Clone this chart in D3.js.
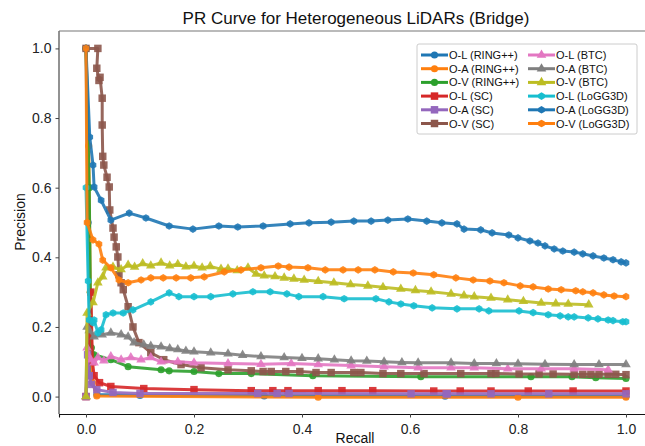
<!DOCTYPE html>
<meta charset="utf-8">
<script src="https://d3js.org/d3.v7.min.js"></script>
<style>
  body { margin: 0; background: #fff; }
  svg { font-family: "Liberation Sans", Arial, sans-serif; }
</style>
<div id="chart"></div>
<script>

// ---- data: [recall, precision] ----
var ringOL = [[0,1.0],[0.004,0.5],[0.008,0.06],[0.02,0.006],[0.1,0.003],[0.33,0.002],[0.665,0.001],[1.0,0.001]];
var ringOA = [[0,1.0],[0.005,0.72],[0.008,0.3],[0.012,0.04],[0.02,0.002],[0.43,-0.002],[0.8,-0.002],[1.0,-0.002]];
var ringOV = [[0,1.0],[0.006,0.6],[0.008,0.3],[0.01,0.14],[0.015,0.12],[0.046,0.106],[0.078,0.086],[0.139,0.077],[0.154,0.074],[0.2,0.072],[0.246,0.066],[0.306,0.066],[0.42,0.06],[0.62,0.057],[0.824,0.057],[0.9,0.057],[0.944,0.054],[1.0,0.052]];

var scOL = [[0,0],[0.009,0.3],[0.012,0.1],[0.015,0.06],[0.025,0.04],[0.046,0.029],[0.107,0.023],[0.2,0.02],[0.306,0.017],[0.346,0.017],[0.374,0.017],[0.43,0.017],[0.474,0.017],[0.531,0.017],[0.644,0.016],[0.693,0.016],[0.75,0.016],[0.819,0.016],[0.902,0.016],[1.0,0.016]];
var scOA = [[0,0],[0.003,0.12],[0.006,0.06],[0.01,0.035],[0.02,0.02],[0.05,0.012],[0.1,0.009],[0.318,0.009],[0.354,0.009],[0.376,0.009],[0.602,0.008],[0.669,0.008],[0.667,0.008],[0.75,0.008],[0.857,0.008],[1.0,0.008]];
var scOV = [[0,1.0],[0.022,1.0],[0.02,0.943],[0.024,0.908],[0.026,0.917],[0.03,0.857],[0.03,0.78],[0.031,0.69],[0.033,0.665],[0.039,0.63],[0.043,0.602],[0.044,0.536],[0.05,0.484],[0.052,0.458],[0.056,0.43],[0.059,0.401],[0.061,0.35],[0.065,0.327],[0.069,0.307],[0.078,0.258],[0.087,0.2],[0.098,0.155],[0.12,0.126],[0.144,0.106],[0.176,0.092],[0.213,0.083],[0.263,0.077],[0.306,0.074],[0.328,0.072],[0.343,0.072],[0.37,0.072],[0.396,0.072],[0.426,0.069],[0.454,0.069],[0.496,0.069],[0.509,0.069],[0.55,0.066],[0.583,0.066],[0.626,0.066],[0.694,0.066],[0.75,0.066],[0.759,0.066],[0.802,0.065],[0.839,0.065],[0.865,0.065],[0.904,0.064],[0.92,0.064],[0.935,0.064],[0.95,0.064],[0.967,0.064],[0.981,0.064],[1.0,0.063]];

var btcOL = [[0,0],[0.002,0.14],[0.009,0.106],[0.015,0.097],[0.022,0.112],[0.033,0.103],[0.046,0.115],[0.065,0.106],[0.083,0.112],[0.102,0.106],[0.12,0.112],[0.139,0.1],[0.17,0.1],[0.2,0.097],[0.263,0.095],[0.324,0.093],[0.38,0.095],[0.43,0.092],[0.491,0.089],[0.552,0.086],[0.615,0.083],[0.676,0.083],[0.719,0.083],[0.781,0.08],[0.843,0.08],[0.904,0.08],[0.967,0.077]];
var btcOA = [[0,0],[0.002,0.2],[0.006,0.19],[0.015,0.172],[0.03,0.178],[0.046,0.183],[0.065,0.178],[0.078,0.172],[0.089,0.155],[0.107,0.149],[0.12,0.145],[0.139,0.143],[0.155,0.138],[0.17,0.135],[0.185,0.131],[0.2,0.129],[0.231,0.126],[0.263,0.123],[0.29,0.119],[0.324,0.115],[0.367,0.112],[0.4,0.11],[0.43,0.109],[0.46,0.106],[0.491,0.103],[0.52,0.102],[0.552,0.1],[0.585,0.098],[0.615,0.097],[0.676,0.097],[0.719,0.095],[0.76,0.095],[0.8,0.094],[0.85,0.093],[0.904,0.092],[0.95,0.092],[1.0,0.092]];
var btcOV = [[0,0],[0.002,0.24],[0.013,0.27],[0.022,0.327],[0.031,0.344],[0.037,0.37],[0.05,0.372],[0.065,0.365],[0.078,0.378],[0.09,0.372],[0.105,0.382],[0.12,0.376],[0.139,0.384],[0.155,0.376],[0.17,0.38],[0.185,0.373],[0.2,0.375],[0.215,0.37],[0.23,0.374],[0.25,0.366],[0.263,0.367],[0.28,0.362],[0.3,0.37],[0.315,0.352],[0.33,0.347],[0.35,0.345],[0.367,0.341],[0.385,0.338],[0.404,0.335],[0.43,0.331],[0.459,0.327],[0.49,0.322],[0.522,0.318],[0.55,0.314],[0.583,0.309],[0.61,0.305],[0.639,0.301],[0.676,0.295],[0.7,0.29],[0.719,0.287],[0.75,0.283],[0.781,0.278],[0.81,0.274],[0.843,0.269],[0.87,0.267],[0.893,0.266],[0.931,0.264]];

var lgOL = [[0,0.6],[0.004,0.332],[0.006,0.22],[0.013,0.212],[0.015,0.22],[0.022,0.183],[0.028,0.192],[0.037,0.235],[0.05,0.24],[0.069,0.24],[0.087,0.249],[0.12,0.272],[0.154,0.298],[0.172,0.287],[0.2,0.287],[0.231,0.287],[0.272,0.295],[0.309,0.301],[0.341,0.301],[0.372,0.295],[0.394,0.287],[0.439,0.287],[0.478,0.281],[0.537,0.281],[0.561,0.272],[0.583,0.266],[0.607,0.261],[0.641,0.255],[0.687,0.252],[0.728,0.252],[0.746,0.246],[0.802,0.246],[0.828,0.241],[0.856,0.235],[0.878,0.232],[0.893,0.229],[0.904,0.229],[0.93,0.226],[0.948,0.223],[0.967,0.22],[0.976,0.218],[0.994,0.215],[1.0,0.215]];
var lgOA = [[0,1.0],[0.007,0.745],[0.013,0.665],[0.015,0.602],[0.028,0.564],[0.046,0.507],[0.08,0.527],[0.111,0.513],[0.154,0.49],[0.198,0.481],[0.246,0.49],[0.281,0.487],[0.328,0.49],[0.378,0.496],[0.413,0.499],[0.454,0.501],[0.496,0.504],[0.528,0.504],[0.559,0.507],[0.596,0.51],[0.631,0.504],[0.659,0.499],[0.687,0.496],[0.7,0.481],[0.731,0.479],[0.752,0.47],[0.783,0.464],[0.8,0.456],[0.822,0.447],[0.837,0.441],[0.85,0.433],[0.867,0.424],[0.883,0.418],[0.904,0.415],[0.92,0.41],[0.939,0.404],[0.959,0.398],[0.976,0.393],[0.991,0.387],[1.0,0.384]];
var lgOV = [[0,1.0],[0.002,0.5],[0.013,0.45],[0.024,0.438],[0.031,0.392],[0.046,0.37],[0.061,0.335],[0.078,0.327],[0.102,0.335],[0.12,0.341],[0.143,0.341],[0.167,0.341],[0.194,0.341],[0.219,0.344],[0.256,0.358],[0.287,0.364],[0.324,0.37],[0.356,0.375],[0.376,0.372],[0.411,0.37],[0.443,0.364],[0.476,0.364],[0.504,0.364],[0.535,0.364],[0.569,0.358],[0.606,0.355],[0.644,0.35],[0.685,0.341],[0.717,0.335],[0.748,0.332],[0.774,0.327],[0.804,0.318],[0.828,0.315],[0.856,0.309],[0.88,0.307],[0.907,0.304],[0.92,0.301],[0.939,0.298],[0.959,0.292],[0.978,0.289],[1.0,0.287]];

var seriesNames = ["O-L (RING++)","O-A (RING++)","O-V (RING++)","O-L (SC)","O-A (SC)","O-V (SC)",
                   "O-L (BTC)","O-A (BTC)","O-V (BTC)","O-L (LoGG3D)","O-A (LoGG3D)","O-V (LoGG3D)"];
var seriesData = [ringOL, ringOA, ringOV, scOL, scOA, scOV, btcOL, btcOA, btcOV, lgOL, lgOA, lgOV];
var colors = ["#1f77b4","#ff7f0e","#2ca02c","#d62728","#9467bd","#8c564b",
              "#e377c2","#7f7f7f","#bcbd22","#17becf","#1f77b4","#ff7f0e"];
var xTicks = [0, 0.2, 0.4, 0.6, 0.8, 1.0];
var yTicks = [0, 0.2, 0.4, 0.6, 0.8, 1.0];

// marker shapes: RING++ circle, SC square, BTC triangle, LoGG3D hexagon
var hexagon = {
  draw: function(ctx, size) {
    var r = Math.sqrt(size / (1.5 * Math.sqrt(3)));
    for (var i = 0; i < 6; i++) {
      var a = Math.PI / 3 * i + Math.PI / 6;
      if (i === 0) ctx.moveTo(r * Math.cos(a), r * Math.sin(a));
      else ctx.lineTo(r * Math.cos(a), r * Math.sin(a));
    }
    ctx.closePath();
  }
};
var shapes = [d3.symbolCircle, d3.symbolSquare, d3.symbolTriangle, hexagon];
var shapeSize = [40, 56, 40, 38];

var W = 645, H = 446;
var svg = d3.select("#chart").append("svg")
  .attr("width", W).attr("height", H);

var x = d3.scaleLinear().domain([-0.05, 1.05]).range([59, 653]);
var y = d3.scaleLinear().domain([-0.05, 1.05]).range([414, 31]);

// title
svg.append("text")
  .attr("x", 356).attr("y", 24)
  .attr("text-anchor", "middle")
  .style("font-size", "17px")
  .style("fill", "#111")
  .text("PR Curve for Heterogeneous LiDARs (Bridge)");

var plot = svg.append("g");
plot.append("clipPath").attr("id", "clip")
  .append("rect").attr("x", 59).attr("y", 31).attr("width", 594).attr("height", 383);

var line = d3.line()
  .x(function(d) { return x(d[0]); })
  .y(function(d) { return y(d[1]); });

var lines = plot.append("g").attr("clip-path", "url(#clip)");
seriesData.forEach(function(data, i) {
  var g = lines.append("g");
  g.append("path")
    .datum(data)
    .attr("d", line)
    .attr("fill", "none")
    .attr("stroke", colors[i])
    .attr("stroke-width", 3)
    .attr("stroke-opacity", 0.9)
    .attr("stroke-linejoin", "round");
  var sym = d3.symbol().type(shapes[Math.floor(i / 3)]).size(shapeSize[Math.floor(i / 3)]);
  g.selectAll("path.mk")
    .data(data)
    .enter()
    .append("path")
      .attr("class", "mk")
      .attr("d", sym)
      .attr("transform", function(d) { return "translate(" + x(d[0]) + "," + y(d[1]) + ")"; })
      .attr("fill", colors[i])
      .attr("fill-opacity", 0.9);
});

// spines
svg.append("line").attr("x1", 59).attr("x2", 645).attr("y1", 31).attr("y2", 31)
  .attr("stroke", "#777").attr("stroke-width", 1.2);
svg.append("line").attr("x1", 59).attr("x2", 59).attr("y1", 31).attr("y2", 414)
  .attr("stroke", "#777").attr("stroke-width", 1.6);

// axes
var xAxis = svg.append("g")
  .attr("transform", "translate(0,414)")
  .call(d3.axisBottom(x).tickValues(xTicks).tickFormat(d3.format(".1f")).tickSize(3.5).tickPadding(7));
xAxis.select(".domain").attr("stroke", "#111").attr("stroke-width", 1.1);
var yAxis = svg.append("g")
  .attr("transform", "translate(59,0)")
  .call(d3.axisLeft(y).tickValues(yTicks).tickFormat(d3.format(".1f")).tickSize(3.5).tickPadding(4));
yAxis.select(".domain").remove();
svg.selectAll(".tick text").style("font-size", "14px").style("fill", "#222")
  .style("font-family", "'Liberation Sans', Arial, sans-serif");
svg.selectAll(".tick line").attr("stroke", "#444");

// axis labels
svg.append("text")
  .attr("x", 355).attr("y", 443)
  .attr("text-anchor", "middle")
  .style("font-size", "14px").style("fill", "#111")
  .text("Recall");
svg.append("text")
  .attr("transform", "translate(25,222) rotate(-90)")
  .attr("text-anchor", "middle")
  .style("font-size", "14px").style("fill", "#111")
  .text("Precision");

// legend
var leg = svg.append("g");
leg.append("rect")
  .attr("x", 417).attr("y", 44).attr("width", 220).attr("height", 90)
  .attr("rx", 2)
  .attr("fill", "#fff").attr("fill-opacity", 0.85)
  .attr("stroke", "#ccc");
seriesNames.forEach(function(name, i) {
  var col = i < 6 ? 0 : 1;
  var row = i % 6;
  var lx = col === 0 ? 421 : 528;
  var ly = 55 + row * 13.7;
  var item = leg.append("g").attr("transform", "translate(" + lx + "," + ly + ")");
  item.append("line").attr("x1", 0).attr("x2", 27).attr("y1", 0).attr("y2", 0)
    .attr("stroke", colors[i]).attr("stroke-width", 3);
  item.append("path")
    .attr("d", d3.symbol().type(shapes[Math.floor(i / 3)]).size(shapeSize[Math.floor(i / 3)])())
    .attr("transform", "translate(13.5,0)")
    .attr("fill", colors[i]);
  item.append("text")
    .attr("x", 28).attr("y", 4)
    .style("font-size", "11px").style("fill", "#111")
    .text(name);
});

</script>
